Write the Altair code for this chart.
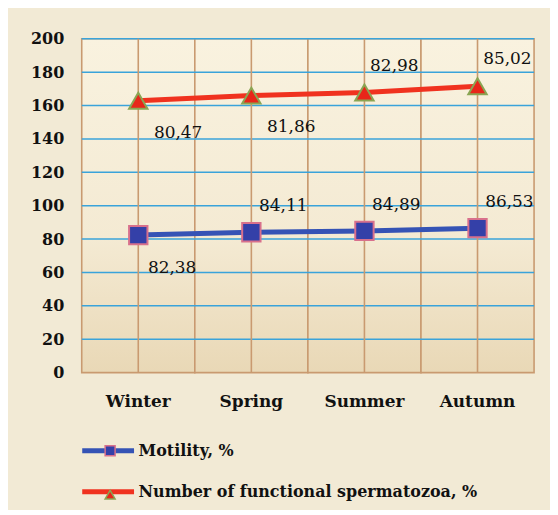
import altair as alt
import pandas as pd

seasons = ["Winter", "Spring", "Summer", "Autumn"]
motility = [82.38, 84.11, 84.89, 86.53]
functional = [80.47, 81.86, 82.98, 85.02]
series_names = ["Motility, %", "Number of functional spermatozoa, %"]
side_motility = ["below", "above", "above", "above"]
side_functional = ["below", "below", "above", "above"]
y_ticks = list(range(0, 201, 20))

rows = []
for i, s in enumerate(seasons):
    rows.append(dict(season=s, series=series_names[0], value=motility[i],
                     y=motility[i], side=side_motility[i]))
    rows.append(dict(season=s, series=series_names[1], value=functional[i],
                     y=motility[i] + functional[i], side=side_functional[i]))
df = pd.DataFrame(rows)
df["label"] = df["value"].map(lambda v: f"{v:.2f}".replace(".", ","))
df["series_p"] = df["series"]

bands = pd.DataFrame({"season": seasons, "lo": [y_ticks[0]] * 4, "hi": [y_ticks[-1]] * 4})
hlines = pd.DataFrame({"tick": y_ticks[1:]})

W, H = 454, 335
FONT = "DejaVu Serif"
TAN = "#c99a70"
BLUE_GRID = "#3aa3da"
INK = "#111111"

xscale = alt.Scale(type="band", domain=seasons, paddingInner=0, paddingOuter=0)
yscale = alt.Scale(domain=[0, 200], nice=False)

x_axis = alt.Axis(title=None, labelAngle=0, labelFont=FONT, labelFontSize=17,
                  labelFontWeight="bold", labelColor=INK, labelPadding=21,
                  ticks=False, domain=False, grid=False, labelOverlap=False)
y_axis = alt.Axis(title=None, values=y_ticks, tickCount=11, labelFont=FONT, labelFontSize=16,
                  labelFontWeight="bold", labelColor=INK, labelPadding=18,
                  ticks=False, domain=False, grid=False, labelOverlap=False)

grad = alt.Gradient(gradient="linear", x1=0, x2=0, y1=0, y2=1,
                    stops=[alt.GradientStop(color="#f9f2df", offset=0),
                           alt.GradientStop(color="#f4ead3", offset=0.6),
                           alt.GradientStop(color="#e9d8b6", offset=1)])

bg = alt.Chart(bands).mark_rect(fill=grad, stroke=TAN, strokeWidth=1.6).encode(
    x=alt.X("season:N", scale=xscale, axis=x_axis),
    y=alt.Y("lo:Q", scale=yscale, axis=y_axis),
    y2="hi:Q",
)

hgrid = alt.Chart(hlines).mark_rule(color=BLUE_GRID, strokeWidth=1.6).encode(
    y=alt.Y("tick:Q", scale=yscale, axis=y_axis)
)

vgrid = alt.Chart(bands).mark_rule(color=TAN, strokeWidth=1.6).encode(
    x=alt.X("season:N", scale=xscale, axis=x_axis),
    y=alt.Y("lo:Q", scale=yscale, axis=y_axis),
    y2="hi:Q",
)

line_legend = alt.Legend(title=None, orient="none", legendX=14, legendY=401,
                         symbolType="M-2.6,0H2.6", symbolSize=400, symbolStrokeWidth=5,
                         labelFont=FONT, labelFontSize=16, labelFontWeight="bold",
                         labelColor=INK, labelOffset=18, rowPadding=18, padding=0,
                         labelLimit=400)

lines = alt.Chart(df).mark_line(strokeWidth=5).encode(
    x=alt.X("season:N", scale=xscale, axis=x_axis),
    y=alt.Y("y:Q", scale=yscale, axis=y_axis),
    color=alt.Color("series:N",
                    scale=alt.Scale(domain=series_names, range=["#3553b5", "#f0321f"]),
                    legend=line_legend),
    detail="series:N",
)

pt_legend = alt.Legend(title=None, orient="none", legendX=20, legendY=405,
                       symbolSize=100, symbolStrokeWidth=1.5, labelExpr="''",
                       labelFontSize=17, rowPadding=26, padding=0)

points = alt.Chart(df).mark_point(filled=True, size=340, opacity=1, strokeWidth=2).encode(
    x=alt.X("season:N", scale=xscale, axis=x_axis),
    y=alt.Y("y:Q", scale=yscale, axis=y_axis),
    shape=alt.Shape("series_p:N",
                    scale=alt.Scale(domain=series_names, range=["square", "triangle-up"]),
                    legend=pt_legend),
    fill=alt.Fill("series_p:N",
                  scale=alt.Scale(domain=series_names, range=["#3440a8", "#e8261a"]),
                  legend=pt_legend),
    stroke=alt.Stroke("series_p:N",
                      scale=alt.Scale(domain=series_names, range=["#d8708c", "#8aa553"]),
                      legend=pt_legend),
)

def text_layer(series, side, dx, dy):
    return alt.Chart(df).transform_filter(
        (alt.datum.series == series) & (alt.datum.side == side)
    ).mark_text(font=FONT, fontSize=17, color=INK, dx=dx, dy=dy).encode(
        x=alt.X("season:N", scale=xscale, axis=x_axis),
        y=alt.Y("y:Q", scale=yscale, axis=y_axis),
        text="label:N",
    )

texts = [
    text_layer(series_names[0], "below", 34, 33),
    text_layer(series_names[0], "above", 32, -26),
    text_layer(series_names[1], "below", 40, 32),
    text_layer(series_names[1], "above", 30, -27),
]

chart = alt.layer(bg, hgrid, vgrid, lines, points, *texts).resolve_legend(
    color="independent", shape="independent", fill="independent", stroke="independent"
).properties(
    width=W, height=H,
    background="#f2ead5",
    autosize=alt.AutoSizeParams(type="none"),
    padding={"left": 74, "top": 30, "right": 16, "bottom": 137},
).configure_view(stroke=None)

chart.save("out.html", embed_options={"renderer": "svg", "actions": False})
